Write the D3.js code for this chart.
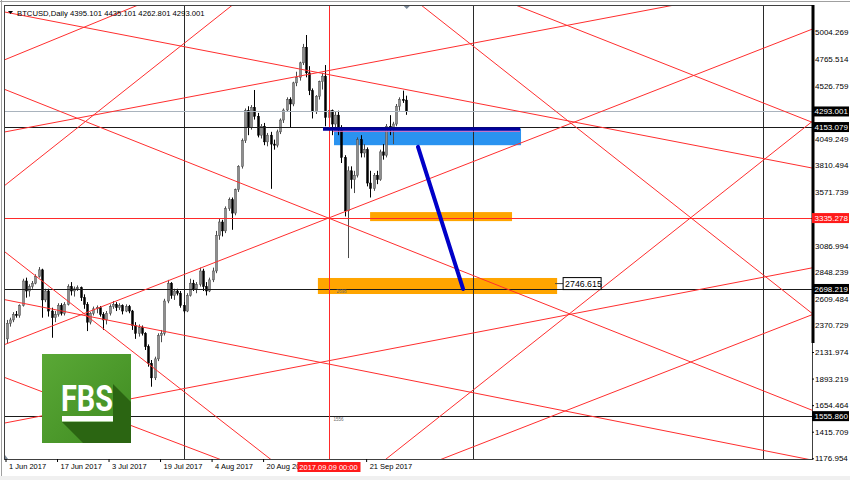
<!DOCTYPE html>
<html><head><meta charset="utf-8">
<script src="https://cdn.jsdelivr.net/npm/d3@7"></script>
<style>
html,body{margin:0;padding:0;background:#fff;}
svg{display:block;font-family:"Liberation Sans",Arial,sans-serif;}
</style></head><body>
<svg id="c" width="850" height="480"></svg>
<script>
// ---------------- DATA ----------------
const symbol = "BTCUSD,Daily";
const startDate = "2017-06-01";
const opens = [2250,2390,2420,2470,2460,2550,2770,2680,2720,2750,2810,2870,2600,2680,2500,2440,2470,2550,2480,2560,2720,2680,2700,2710,2620,2560,2400,2480,2520,2530,
2470,2420,2480,2540,2560,2530,2550,2500,2540,2500,2370,2300,2350,2300,2180,2030,1900,2070,2280,2300,2590,2750,2640,2680,2660,2550,2500,2640,2750,2700,2740,
2860,2720,2680,2780,2860,3180,3300,3220,3420,3500,3380,3590,3800,4030,4300,4150,4330,4250,4080,4160,4020,4080,4000,3990,4110,4216,4306,4400,4360,4550,4600,
4730,4870,4640,4480,4290,4430,4560,4610,4240,4300,4180,4260,4150,3880,3400,3760,3680,3720,4040,3920,3950,3650,3600,3720,3680,3930,3900,4160,4140,4180,
4340,4400,4395.101];
const highs = [2420,2440,2490,2500,2560,2790,2800,2740,2770,2830,2895,2880,2700,2700,2530,2500,2570,2570,2580,2740,2760,2720,2730,2720,2650,2580,2490,2540,2550,2545,
2490,2500,2560,2590,2580,2570,2560,2560,2555,2510,2400,2380,2370,2310,2200,2060,2090,2300,2330,2610,2780,2760,2700,2700,2680,2580,2660,2790,2780,2760,2890,
2880,2760,2800,2890,3220,3330,3320,3440,3520,3520,3600,3810,4050,4320,4340,4350,4486,4280,4180,4190,4100,4110,4040,4130,4230,4320,4420,4420,4560,4650,4740,
4900,4980,4700,4500,4440,4570,4640,4710,4330,4310,4290,4300,4170,3900,3800,3800,3760,4060,4080,4000,3970,3760,3740,3760,3950,4000,4180,4260,4200,4360,
4420,4480,4435.101];
const lows = [2210,2360,2400,2440,2440,2540,2620,2630,2700,2740,2800,2440,2580,2450,2260,2400,2450,2460,2460,2550,2640,2630,2680,2590,2520,2320,2380,2460,2480,2450,
2330,2380,2460,2520,2500,2510,2470,2490,2480,2330,2250,2270,2280,2150,2000,1820,1880,2050,2220,2280,2570,2610,2600,2640,2530,2480,2490,2630,2680,2660,2720,
2680,2640,2670,2760,2840,3140,3170,3200,3400,3230,3360,3570,3780,4010,4080,4130,4220,4060,4050,3990,3980,3598,3950,3970,4090,4190,4290,4150,4340,4520,4570,
4710,4600,4440,4230,4270,4400,4490,4160,4200,4080,4140,4080,3830,3350,2976,3600,3560,3700,3880,3880,3620,3520,3580,3640,3670,3860,3880,4080,4000,4160,
4300,4370,4262.801];
const closes = [2390,2420,2470,2460,2550,2770,2680,2720,2750,2810,2870,2600,2680,2500,2440,2470,2550,2480,2560,2720,2680,2700,2710,2620,2560,2400,2480,2520,2530,2470,
2420,2480,2540,2560,2530,2550,2500,2540,2500,2370,2300,2350,2300,2180,2030,1900,2070,2280,2300,2590,2750,2640,2680,2660,2550,2500,2640,2750,2700,2740,2860,
2720,2680,2780,2860,3180,3300,3220,3420,3500,3380,3590,3800,4030,4300,4150,4330,4250,4080,4160,4020,4080,4000,3990,4110,4216,4306,4400,4360,4550,4600,4730,
4870,4640,4480,4290,4430,4560,4610,4240,4300,4180,4260,4150,3880,3400,3760,3680,3720,4040,3920,3950,3650,3600,3720,3680,3930,3900,4160,4140,4180,4340,
4400,4395.101,4293.001];

const priceTickValues = [5004.269,4765.514,4526.759,4049.249,3810.494,3571.739,3086.994,2848.239,2609.484,2370.729,2131.974,1893.219,1654.464,1415.709,1176.954];
const timeTickDates = ["2017-06-01","2017-06-17","2017-07-03","2017-07-19","2017-08-04","2017-08-20","2017-09-21"];
const timeTickLabels = ["1 Jun 2017","17 Jun 2017","3 Jul 2017","19 Jul 2017","4 Aug 2017","20 Aug 2017","21 Sep 2017"];

const blackLevels = [4153.079, 2698.219, 1555.860];
const redLevels = [3335.278];
const blackVerticals = ["2017-07-26","2017-10-24","2018-01-22"];
const redVerticals = ["2017-09-09"];
const redVerticalLabel = "2017.09.09 00:00";

// trend lines: [date1, price1, date2, price2]
const trendLines = [
  ["2017-07-31",4848,"2018-02-06",3786],
  ["2017-06-01",2599,"2018-02-06",1162],
  ["2017-07-31",4441,"2017-12-02",5121],
  ["2017-11-01",4696,"2018-02-06",2483],
  ["2017-12-02",4953,"2018-02-06",4198],
  ["2017-09-09",3335.278,"2018-02-06",5030],
  ["2017-10-01",1265,"2018-02-06",4198],
  ["2017-06-01",1497,"2018-02-06",2887],
  ["2017-11-01",1371,"2018-02-06",2465],
  ["2017-09-09",3335.278,"2018-02-06",1611],
  ["2017-06-01",3020,"2017-08-15",1327],
  ["2017-06-01",1897,"2017-07-31",1237],
  ["2017-06-01",4764,"2017-07-11",5239],
  ["2017-06-01",3641,"2017-07-31",5016]
];
// zones: [date1, date2, priceLow, priceHigh]
const blueZone = ["2017-09-10T17:00","2017-11-07T19:00",3990,4140];
const navyBar = ["2017-09-07T07:00","2017-11-07T12:00",4135];
const orangeZones = [
  ["2017-09-21T22:00","2017-11-05T00:00",3308,3389],
  ["2017-09-05T17:00","2017-11-19T00:00",2653,2797]
];
const targetLine = ["2017-10-06T19:00",3975,"2017-10-20T19:00",2698.219];
const targetPrice = 2746.615;

// ---------------- CHART ----------------
const svg = d3.select("#c");
const W = 850, H = 480;
const L = 4, R = 812, T = 5, B = 459;
const pDay = d3.utcParse("%Y-%m-%d"), pDT = d3.utcParse("%Y-%m-%dT%H:%M");
const P = s => (s.length > 10 ? pDT(s) : pDay(s));
const start = P(startDate);
const dates = closes.map((_, i) => d3.utcDay.offset(start, i));
const candles = dates.map((d, i) => ({d, o: opens[i], h: highs[i], l: lows[i], c: closes[i]}));

const x = d3.scaleUtc().domain([start, dates[dates.length - 1]]).range([6.5, 6.5 + 3.22 * (dates.length - 1)]);
const y = d3.scaleLinear().domain([1176.954, 5004.269]).range([458.3, 32.3]);

// window background / frame
svg.append("rect").attr("width", W).attr("height", H).attr("fill", "#f0f0f0");
svg.append("rect").attr("x", 0).attr("y", 0).attr("width", W).attr("height", 476).attr("fill", "#fff");
svg.append("line").attr("x1", 1.5).attr("x2", 1.5).attr("y1", 0).attr("y2", 476).attr("stroke", "#a0a0a0");
svg.append("line").attr("x1", 0).attr("x2", W).attr("y1", 1.5).attr("y2", 1.5).attr("stroke", "#a0a0a0");

const defs = svg.append("defs");
defs.append("clipPath").attr("id", "pc")
  .append("rect").attr("x", L + 1).attr("y", T + 1).attr("width", R - L - 1).attr("height", B - T - 1);
const plot = svg.append("g").attr("clip-path", "url(#pc)");

// background zones
plot.append("rect")
  .attr("x", x(P(blueZone[0]))).attr("width", x(P(blueZone[1])) - x(P(blueZone[0])))
  .attr("y", y(blueZone[3])).attr("height", y(blueZone[2]) - y(blueZone[3]))
  .attr("fill", "#2a93f0");
plot.selectAll(".oz").data(orangeZones).enter().append("rect")
  .attr("x", d => x(P(d[0]))).attr("width", d => x(P(d[1])) - x(P(d[0])))
  .attr("y", d => y(d[3])).attr("height", d => y(d[2]) - y(d[3]))
  .attr("fill", "#ffa500");

// vertical lines
plot.selectAll(".vb").data(blackVerticals).enter().append("line")
  .attr("x1", d => Math.round(x(P(d))) + 0.5).attr("x2", d => Math.round(x(P(d))) + 0.5)
  .attr("y1", T).attr("y2", B).attr("stroke", "#2a2a2a");

// candles
const cg = plot.append("g");
cg.selectAll(".w").data(candles).enter().append("line")
  .attr("x1", d => Math.round(x(d.d)) + 0.5).attr("x2", d => Math.round(x(d.d)) + 0.5)
  .attr("y1", d => y(d.h)).attr("y2", d => y(d.l))
  .attr("stroke", d => d.c >= d.o ? "#4a4a4a" : "#000").attr("stroke-width", 1);
cg.selectAll(".b").data(candles).enter().append("rect")
  .attr("x", d => Math.round(x(d.d)) - 0.5).attr("width", 2)
  .attr("y", d => y(Math.max(d.o, d.c)))
  .attr("height", d => Math.max(1, Math.abs(y(d.o) - y(d.c))))
  .attr("fill", d => d.c >= d.o ? "#8e8e8e" : "#000")
  .attr("stroke", d => d.c >= d.o ? "#4a4a4a" : "#000").attr("stroke-width", 0.5);

// horizontal levels
const lastClose = closes[closes.length - 1];
plot.append("line").attr("x1", L).attr("x2", R).attr("y1", Math.round(y(lastClose)) + 0.5).attr("y2", Math.round(y(lastClose)) + 0.5)
  .attr("stroke", "#a9b3bd");
plot.selectAll(".hb").data(blackLevels).enter().append("line")
  .attr("x1", L).attr("x2", R).attr("y1", d => Math.round(y(d)) + 0.5).attr("y2", d => Math.round(y(d)) + 0.5)
  .attr("stroke", "#1a1a1a");
plot.selectAll(".hr").data(redLevels).enter().append("line")
  .attr("x1", L).attr("x2", R).attr("y1", d => Math.round(y(d)) + 0.5).attr("y2", d => Math.round(y(d)) + 0.5)
  .attr("stroke", "#ff2a2a");
plot.selectAll(".vr").data(redVerticals).enter().append("line")
  .attr("x1", d => Math.round(x(P(d))) + 0.5).attr("x2", d => Math.round(x(P(d))) + 0.5)
  .attr("y1", T).attr("y2", B).attr("stroke", "#ff2a2a");

// trend lines extended across the plot
plot.selectAll(".tl").data(trendLines).enter().append("line")
  .each(function (d) {
    const x1 = x(P(d[0])), y1 = y(d[1]), x2 = x(P(d[2])), y2 = y(d[3]);
    const m = (y2 - y1) / (x2 - x1);
    d3.select(this).attr("x1", 0).attr("y1", y1 + m * (0 - x1)).attr("x2", W).attr("y2", y1 + m * (W - x1));
  })
  .attr("stroke", "#ff2e2e").attr("stroke-width", 1);

// navy bar + pink edge
plot.append("line").attr("x1", x(P(navyBar[0]))).attr("x2", x(P(navyBar[1])))
  .attr("y1", y(navyBar[2])).attr("y2", y(navyBar[2])).attr("stroke", "#00009c").attr("stroke-width", 3.5);
plot.append("line").attr("x1", x(P(navyBar[0])) + 10).attr("x2", x(P(navyBar[1])))
  .attr("y1", y(navyBar[2]) + 2.3).attr("y2", y(navyBar[2]) + 2.3).attr("stroke", "#e070c0").attr("stroke-width", 1);

// target line
plot.append("line")
  .attr("x1", x(P(targetLine[0]))).attr("y1", y(targetLine[1]))
  .attr("x2", x(P(targetLine[2]))).attr("y2", y(targetLine[3]))
  .attr("stroke", "#0000c8").attr("stroke-width", 4).attr("stroke-linecap", "round");

// target price label
const tz = orangeZones[1];
const tx = x(P(tz[1])) + 6, ty = y(targetPrice);
plot.append("line").attr("x1", tx - 8).attr("x2", tx).attr("y1", ty).attr("y2", ty).attr("stroke", "#444");
plot.append("rect").attr("x", tx).attr("y", ty - 6).attr("width", 38).attr("height", 12)
  .attr("fill", "#fff").attr("stroke", "#000").attr("stroke-width", 1);
plot.append("text").attr("x", tx + 2).attr("y", ty + 3.5).attr("font-size", "8.8px").attr("fill", "#000").text(d3.format(".3f")(targetPrice));

// tiny descriptions
plot.append("text").attr("x", x(P(redVerticals[0])) + 8).attr("y", y(blackLevels[1]) + 4)
  .attr("font-size", "4.5px").attr("fill", "#6a6a6a").text(Math.round(blackLevels[1]));
plot.append("text").attr("x", x(P(redVerticals[0])) + 5).attr("y", y(blackLevels[2]) + 5)
  .attr("font-size", "4.5px").attr("fill", "#6a6a6a").text(Math.round(blackLevels[2]));

// FBS logo
const logo = svg.append("g");
const gr = defs.append("linearGradient").attr("id", "lg").attr("x1", 0).attr("y1", 0).attr("x2", 1).attr("y2", 1);
gr.append("stop").attr("offset", 0).attr("stop-color", "#5aa836");
gr.append("stop").attr("offset", 1).attr("stop-color", "#3f8b21");
logo.append("rect").attr("x", 42).attr("y", 354).attr("width", 89).attr("height", 89).attr("fill", "url(#lg)");
logo.append("path").attr("d", "M113,384 L131,402 L131,443 L83,443 L62,422 L113,422 Z").attr("fill", "#2b6512");
logo.append("text").attr("x", 87).attr("y", 411).attr("text-anchor", "middle")
  .attr("font-family", "Roboto, 'Liberation Sans', sans-serif").attr("font-weight", 700)
  .attr("font-size", "37px").attr("fill", "#fff").attr("textLength", 52).attr("lengthAdjust", "spacingAndGlyphs").text("FBS");
logo.append("rect").attr("x", 62).attr("y", 416).attr("width", 51).attr("height", 5.5).attr("fill", "#fff");

// frame
svg.append("rect").attr("x", L + 0.5).attr("y", T + 0.5).attr("width", R - L).attr("height", B - T)
  .attr("fill", "none").attr("stroke", "#404040");
svg.append("line").attr("x1", R + 1).attr("x2", R + 1).attr("y1", T).attr("y2", 343).attr("stroke", "#000").attr("stroke-width", 3);

// right price axis
const ya = svg.append("g").attr("transform", `translate(${R},0)`)
  .call(d3.axisRight(y).tickValues(priceTickValues).tickSize(2).tickPadding(1).tickFormat(d3.format(".3f")));
ya.select(".domain").remove();
ya.selectAll("text").attr("font-size", "8px").attr("fill", "#000").attr("font-family", "'Liberation Sans',Arial,sans-serif");
ya.selectAll("line").attr("stroke", "#000");

// highlighted price labels
const hl = [
  {v: lastClose, bg: "#000"},
  ...blackLevels.map(v => ({v, bg: "#000"})),
  ...redLevels.map(v => ({v, bg: "#ff1a1a"}))
];
const hg = svg.append("g");
hg.selectAll("rect").data(hl).enter().append("rect")
  .attr("x", R).attr("y", d => y(d.v) - 5).attr("width", 37).attr("height", 10).attr("fill", d => d.bg);
hg.selectAll("text").data(hl).enter().append("text")
  .attr("x", R + 2.5).attr("y", d => y(d.v) + 3)
  .attr("font-size", "8px").attr("fill", "#fff").text(d => d3.format(".3f")(d.v));

// bottom time axis
const xa = svg.append("g").attr("transform", `translate(-1,${B})`)
  .call(d3.axisBottom(x).tickValues(timeTickDates.map(P)).tickSize(3).tickPadding(2)
    .tickFormat((d, i) => timeTickLabels[i]));
xa.select(".domain").remove();
xa.selectAll("text").attr("text-anchor", "start").attr("dx", 3).attr("font-size", "7.5px").attr("fill", "#000")
  .attr("font-family", "'Liberation Sans',Arial,sans-serif");
xa.selectAll("line").attr("stroke", "#000");

// red time label
const rvx = x(P(redVerticals[0]));
svg.append("rect").attr("x", rvx - 31).attr("y", 462).attr("width", 63).attr("height", 10).attr("fill", "#ff1a1a");
svg.append("text").attr("x", rvx).attr("y", 470).attr("text-anchor", "middle").attr("font-size", "7.5px")
  .attr("fill", "#fff").text(redVerticalLabel);

// markers
const lastX = x(dates[dates.length - 1]);
svg.append("path").attr("d", `M${lastX - 2},${T + 1} L${lastX + 4},${T + 1} L${lastX + 1},${T + 4} Z`).attr("fill", "#7a8898");
svg.append("path").attr("d", `M${L + 1},${B - 4} L${L + 1},${B} L${L + 4},${B} Z`).attr("fill", "#7a8898");

// header
const fmt = d3.format(".3f");
const n = closes.length - 1;
svg.append("path").attr("d", "M8,11 L13,11 L10.5,14 Z").attr("fill", "#000");
svg.append("text").attr("x", 17).attr("y", 16).attr("font-size", "7.7px").attr("fill", "#000")
  .text(`${symbol} ${fmt(opens[n])} ${fmt(highs[n])} ${fmt(lows[n])} ${fmt(closes[n])}`);
</script>
</body></html>
